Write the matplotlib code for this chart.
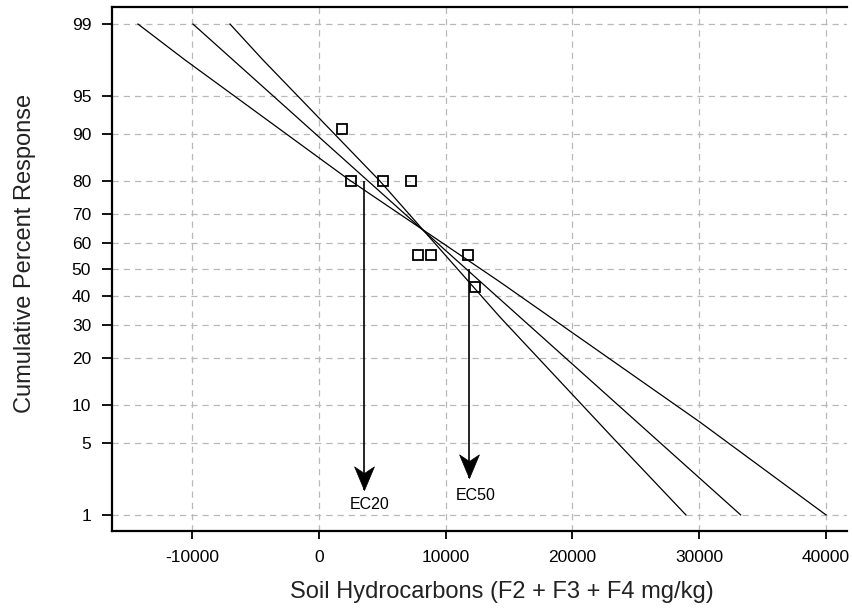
import math
import matplotlib
matplotlib.use('Agg')
import matplotlib.pyplot as plt
from matplotlib.path import Path
import numpy as np

plt.rcParams['font.family'] = ['Liberation Sans', 'DejaVu Sans']

# observed responses (%)
obs_x = [1840, 2500, 5020, 7290, 7790, 8840, 11780, 12330]
obs_y = [90.8, 80, 80, 80, 55.6, 55.6, 55.6, 43.4]

# fitted probit line and the two fiducial limits
fit_x = [-9940, 33270]
fit_y = [99.0, 1.0]

lowA_x = [-7020, -4420, 4810, 14280, 23350, 28950]
lowA_y = [99.0, 97.65, 79.9, 32.6, 5.3, 1.0]

uppC_x = [-14280, -10570, 2350, 14280, 30060, 40000]
uppC_y = [99.0, 97.65, 80.3, 45.3, 7.4, 1.0]

# EC arrows: x, start %, tip %, label position
ec_names = ['EC20', 'EC50']
ec_x = [3575, 11830]
ec_top = [79.8, 50.0]
ec_tip = [1.83, 2.39]
ec_lab_x = [4020, 12360]
ec_lab_y = [1.28, 1.59]

yticks = [1, 5, 10, 20, 30, 40, 50, 60, 70, 80, 90, 95, 99]
xticks = [-10000, 0, 10000, 20000, 30000, 40000]

_erf = np.vectorize(math.erf, otypes=[float])


def pct_to_z(p):
    # inverse normal cdf by bisection (no scipy here)
    p = np.clip(np.asarray(p, dtype=float) / 100.0, 1e-12, 1 - 1e-12)
    if p.size == 0:
        return p
    lo = np.full(p.shape, -10.0)
    hi = np.full(p.shape, 10.0)
    for _ in range(60):
        mid = (lo + hi) / 2
        c = 0.5 * (1 + _erf(mid / math.sqrt(2)))
        lo = np.where(c < p, mid, lo)
        hi = np.where(c < p, hi, mid)
    return (lo + hi) / 2


def z_to_pct(z):
    z = np.asarray(z, dtype=float)
    if z.size == 0:
        return z
    return 50.0 * (1 + _erf(z / math.sqrt(2)))


# dart shaped arrow head, tip at the marker origin
dart = Path([(0, 0), (-0.42, 1.0), (0, 0.72), (0.42, 1.0), (0, 0)],
            [Path.MOVETO, Path.LINETO, Path.LINETO, Path.LINETO, Path.CLOSEPOLY])

fig = plt.figure(figsize=(8.52, 6.10), dpi=100)
ax = fig.add_axes([112/852, 79/610, 735/852, 524/610])
ax.set_yscale('function', functions=(pct_to_z, z_to_pct))

ax.plot(fit_x, fit_y, color='black', lw=0.9)
ax.plot(lowA_x, lowA_y, color='black', lw=0.9)
ax.plot(uppC_x, uppC_y, color='black', lw=0.9)
ax.plot(obs_x, obs_y, 's', mfc='none', mec='black', ms=7, mew=1.3, zorder=5)

ax.vlines(ec_x, ec_tip, ec_top, color='black', lw=1.2)
ax.plot(ec_x, ec_tip, ls='none', marker=dart, ms=34, mfc='black', mec='black', mew=0.5)
for name, lx, ly in zip(ec_names, ec_lab_x, ec_lab_y):
    ax.text(lx, ly, name, ha='center', va='center', fontsize=11.5)

ax.set_xlim(-16330, 41660)
ax.set_ylim(0.659, 99.358)
ax.set_xticks(xticks)
ax.set_xticklabels([str(v) for v in xticks])
ax.set_yticks(yticks)
ax.set_yticklabels([str(v) for v in yticks])
ax.minorticks_off()

ax.grid(True, color='#b8b8b8', linestyle=(0, (5, 4)), lw=0.9)
ax.set_axisbelow(True)

for s in ['left', 'bottom', 'top']:
    ax.spines[s].set_linewidth(1.6)
ax.spines['right'].set_visible(False)
ax.tick_params(axis='both', labelsize=12.5, width=1.3, color='black')
ax.tick_params(axis='y', length=7, pad=8)
ax.tick_params(axis='x', length=6, pad=8)

ax.set_xlabel('Soil Hydrocarbons (F2 + F3 + F4 mg/kg)', fontsize=17, color='#222222')
ax.set_ylabel('Cumulative Percent Response', fontsize=17, color='#222222')
ax.xaxis.set_label_coords(0.531, -0.095)
ax.yaxis.set_label_coords(-0.103, 0.53)

fig.savefig('out.png', dpi=100)
